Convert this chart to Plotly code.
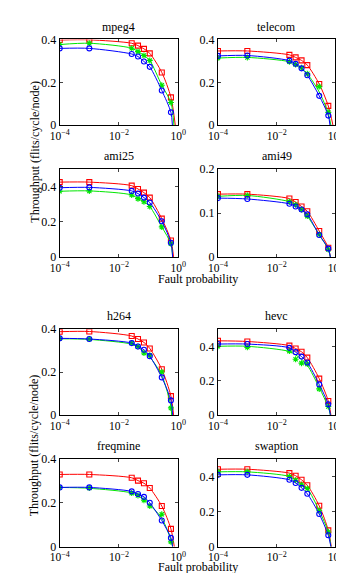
import plotly.graph_objects as go

# Fault probabilities (x)
fault_prob = [1e-4, 1e-3, 0.027, 0.044, 0.07, 0.11, 0.28, 0.57]

panel_names = ["mpeg4", "telecom", "ami25", "ami49", "h264", "hevc", "freqmine", "swaption"]
y_max = [0.4, 0.4, 0.5, 0.2, 0.4, 0.5, 0.4, 0.5]
y_ticks = [[0, 0.2, 0.4], [0, 0.2, 0.4], [0, 0.2, 0.4], [0, 0.1, 0.2],
           [0, 0.2, 0.4], [0, 0.2, 0.4], [0, 0.2, 0.4], [0, 0.2, 0.4]]

# Throughput values (flits/cycle/node): red squares, green stars, blue circles
red = {
    "mpeg4":    [0.397, 0.398, 0.382, 0.371, 0.356, 0.335, 0.246, 0.130],
    "telecom":  [0.346, 0.346, 0.328, 0.316, 0.302, 0.280, 0.192, 0.090],
    "ami25":    [0.426, 0.426, 0.406, 0.387, 0.366, 0.338, 0.218, 0.094],
    "ami49":    [0.143, 0.143, 0.133, 0.125, 0.115, 0.104, 0.059, 0.021],
    "h264":     [0.388, 0.389, 0.368, 0.354, 0.338, 0.310, 0.213, 0.088],
    "hevc":     [0.432, 0.428, 0.404, 0.387, 0.368, 0.334, 0.212, 0.081],
    "freqmine": [0.329, 0.329, 0.314, 0.301, 0.289, 0.267, 0.185, 0.081],
    "swaption": [0.441, 0.441, 0.419, 0.404, 0.381, 0.350, 0.233, 0.093],
}
green = {
    "mpeg4":    [0.376, 0.382, 0.359, 0.343, 0.325, 0.302, 0.186, 0.106],
    "telecom":  [0.313, 0.316, 0.296, 0.283, 0.268, 0.240, 0.180, 0.060],
    "ami25":    [0.374, 0.376, 0.353, 0.332, 0.314, 0.287, 0.171, 0.075],
    "ami49":    [0.138, 0.140, 0.126, 0.119, 0.108, 0.093, 0.051, 0.017],
    "h264":     [0.357, 0.354, 0.335, 0.319, 0.289, 0.278, 0.200, 0.033],
    "hevc":     [0.400, 0.394, 0.372, 0.325, 0.302, 0.297, 0.152, 0.049],
    "freqmine": [0.270, 0.267, 0.244, 0.233, 0.212, 0.185, 0.148, 0.022],
    "swaption": [0.426, 0.426, 0.400, 0.378, 0.353, 0.331, 0.205, 0.084],
}
blue = {
    "mpeg4":    [0.358, 0.358, 0.332, 0.320, 0.297, 0.272, 0.162, 0.060],
    "telecom":  [0.323, 0.325, 0.301, 0.286, 0.265, 0.233, 0.137, 0.045],
    "ami25":    [0.394, 0.396, 0.376, 0.361, 0.338, 0.310, 0.203, 0.081],
    "ami49":    [0.134, 0.132, 0.121, 0.115, 0.108, 0.097, 0.050, 0.019],
    "h264":     [0.357, 0.354, 0.335, 0.319, 0.304, 0.274, 0.175, 0.068],
    "hevc":     [0.413, 0.413, 0.391, 0.366, 0.340, 0.306, 0.178, 0.062],
    "freqmine": [0.270, 0.270, 0.252, 0.240, 0.227, 0.200, 0.119, 0.040],
    "swaption": [0.409, 0.409, 0.381, 0.363, 0.335, 0.301, 0.186, 0.065],
}
# Fitted-curve values where the green points scatter away from the fit
green_fit = {
    "telecom":  [0.313, 0.316, 0.296, 0.283, 0.266, 0.240, 0.155, 0.055],
    "h264":     [0.355, 0.352, 0.330, 0.315, 0.295, 0.270, 0.185, 0.040],
    "hevc":     [0.400, 0.400, 0.370, 0.350, 0.325, 0.290, 0.160, 0.045],
    "freqmine": [0.270, 0.266, 0.245, 0.232, 0.215, 0.190, 0.130, 0.030],
}
# Fault probability where each fitted curve reaches zero: [red, green, blue]
zero_x = {
    "mpeg4":    [0.80, 0.72, 0.64],
    "telecom":  [0.82, 0.70, 0.65],
    "ami25":    [0.70, 0.65, 0.65],
    "ami49":    [0.67, 0.67, 0.67],
    "h264":     [0.70, 0.60, 0.65],
    "hevc":     [0.70, 0.67, 0.67],
    "freqmine": [0.74, 0.65, 0.65],
    "swaption": [0.72, 0.70, 0.70],
}

W, H = 344, 573
col_px = [(44, 169), (211, 335)]
row_px = [(25, 113), (158, 248), (322, 410), (455, 545)]

FONT = "Liberation Serif, Times New Roman, serif"
RED, GREEN, BLUE = "#ff0000", "#00e600", "#0000ff"

fig = go.Figure()
layout = dict(width=W, height=H, margin=dict(l=0, r=0, t=0, b=0),
              paper_bgcolor="white", plot_bgcolor="white", showlegend=False,
              font=dict(family=FONT, size=12, color="black"))
annotations = []

for i, name in enumerate(panel_names):
    r, c = divmod(i, 2)
    x0, x1 = col_px[c]
    t, b = row_px[r]
    k = "" if i == 0 else str(i + 1)
    xa, ya = "x" + k, "y" + k
    layout["xaxis" + k] = dict(
        domain=[x0 / W, x1 / W], anchor=ya, type="log", range=[-4, 0],
        tickvals=[1e-4, 1e-2, 1], ticktext=["10<sup>−4</sup>", "10<sup>−2</sup>", "10<sup>0</sup>"],
        ticks="inside", ticklen=3, showline=True, mirror="ticks", linecolor="black",
        linewidth=1, showgrid=False, zeroline=False, tickfont=dict(family=FONT, size=11.5))
    layout["yaxis" + k] = dict(
        domain=[1 - b / H, 1 - t / H], anchor=xa, range=[0, y_max[i]],
        tickvals=y_ticks[i], ticktext=[("0" if v == 0 else f"{v:g}") for v in y_ticks[i]],
        ticks="inside", ticklen=3, showline=True, mirror="ticks", linecolor="black",
        linewidth=1, showgrid=False, zeroline=False, tickfont=dict(family=FONT, size=12))
    annotations.append(dict(text=name, x=(x0 + x1) / 2 / W, y=1 - (t - 13) / H,
                            xref="paper", yref="paper", showarrow=False,
                            xanchor="center", yanchor="middle",
                            font=dict(family=FONT, size=12)))

    series = [
        (red[name], red[name], RED, "square-open", zero_x[name][0]),
        (green[name], green_fit.get(name, green[name]), GREEN, "asterisk-open", zero_x[name][1]),
        (blue[name], blue[name], BLUE, "circle-open", zero_x[name][2]),
    ]
    for vals, fit, color, sym, xz in series:
        fig.add_trace(go.Scatter(
            x=fault_prob + [xz], y=fit + [0], mode="lines",
            line=dict(color=color, width=1, shape="spline", smoothing=0.8),
            xaxis=xa, yaxis=ya, hoverinfo="skip"))
        fig.add_trace(go.Scatter(
            x=fault_prob, y=vals, mode="markers",
            marker=dict(symbol=sym, size=5, color=color, line=dict(color=color, width=1.1)),
            xaxis=xa, yaxis=ya, cliponaxis=True))

for yc in (140, 441):
    annotations.append(dict(text="Throughput (flits/cycle/node)", x=17 / W, y=1 - yc / H,
                            xref="paper", yref="paper", showarrow=False, textangle=-90,
                            xanchor="center", yanchor="middle", font=dict(family=FONT, size=12)))
for yc in (271, 566):
    annotations.append(dict(text="Fault probability", x=190 / W, y=1 - yc / H,
                            xref="paper", yref="paper", showarrow=False,
                            xanchor="center", yanchor="middle", font=dict(family=FONT, size=12)))

layout["annotations"] = annotations
fig.update_layout(**layout)
fig.write_html("out.html")
